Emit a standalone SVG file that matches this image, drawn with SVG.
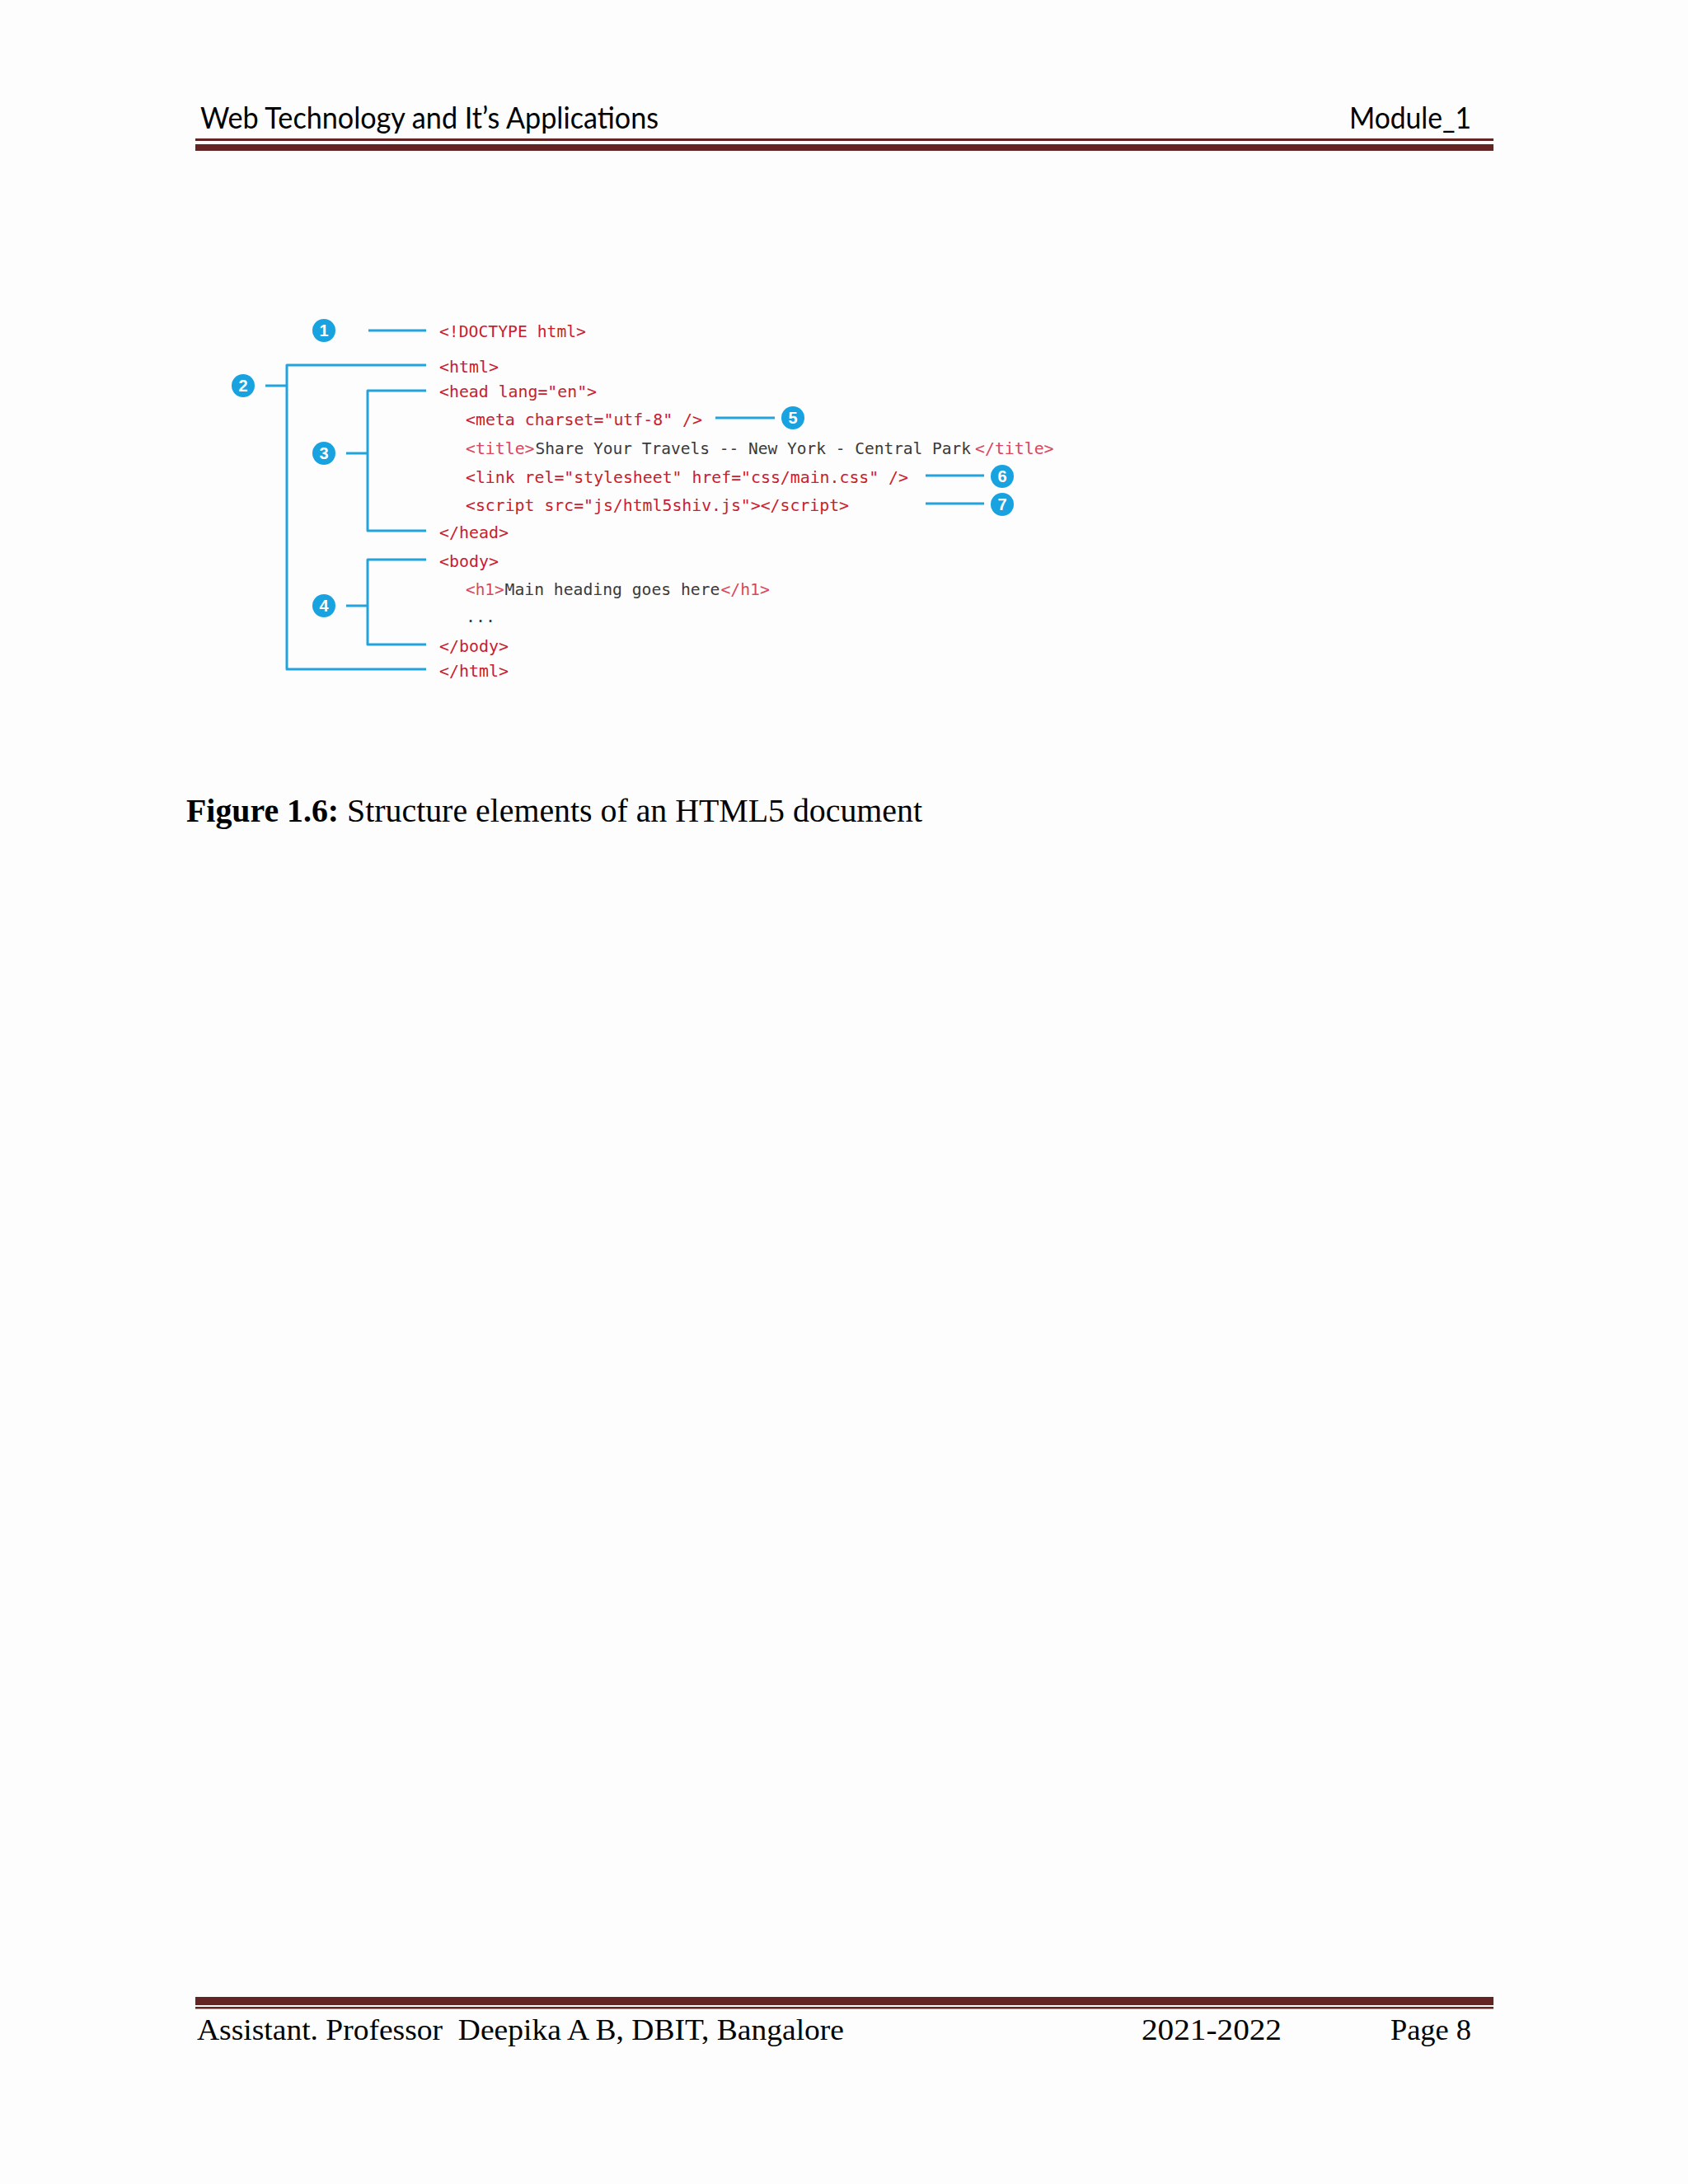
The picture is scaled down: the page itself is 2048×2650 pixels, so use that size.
<svg xmlns="http://www.w3.org/2000/svg" width="2048" height="2650" viewBox="0 0 2048 2650">
<style>
.hdr{font-family:Lato,"Liberation Sans",sans-serif;font-size:36.8px;fill:#000}
.ftr{font-family:"Liberation Serif",serif;font-size:36.8px;fill:#000;white-space:pre}
.code{font-family:"DejaVu Sans Mono","Liberation Mono",monospace;font-size:20px;fill:#c9202f}
.lt{fill:#d9475d}
.dk{fill:#3a3a3a}
.conn{fill:none;stroke:#22a3dc;stroke-width:3;stroke-linejoin:round;stroke-linecap:butt}
.badge circle{fill:#18a3e0}
.badge text{font-family:"Liberation Sans",sans-serif;font-weight:bold;font-size:20px;fill:#fff;text-anchor:middle}
.cap{font-family:"Liberation Serif",serif;font-size:40px;fill:#000}
.rule{fill:#632423}
</style>
<rect x="0" y="0" width="2048" height="2650" fill="#fdfdfd"/>

<g id="header">
<text class="hdr" x="243" y="156" textLength="556" lengthAdjust="spacingAndGlyphs">Web Technology and It’s Applications</text>
<text class="hdr" x="1637" y="156" textLength="148" lengthAdjust="spacingAndGlyphs">Module_1</text>
<rect class="rule" x="237" y="168" width="1575" height="3"/>
<rect class="rule" x="237" y="175" width="1575" height="8"/>
</g>

<g id="connectors">
<path class="conn" d="M447 401 H517"/>
<path class="conn" d="M517 443 H348 V812 H517 M322 468 H348"/>
<path class="conn" d="M517 474 H446 V644 H517 M420 550 H446"/>
<path class="conn" d="M517 679 H446 V782 H517 M420 735 H446"/>
<path class="conn" d="M868 507 H940"/>
<path class="conn" d="M1123 577 H1194"/>
<path class="conn" d="M1123 611 H1194"/>
</g>

<g id="callout-1" class="badge"><circle cx="393" cy="401" r="14"/><text x="393" y="408">1</text></g>
<g id="callout-2" class="badge"><circle cx="295" cy="468" r="14"/><text x="295" y="475">2</text></g>
<g id="callout-3" class="badge"><circle cx="393" cy="550" r="14"/><text x="393" y="557">3</text></g>
<g id="callout-4" class="badge"><circle cx="393" cy="735" r="14"/><text x="393" y="742">4</text></g>
<g id="callout-5" class="badge"><circle cx="962" cy="507" r="14"/><text x="962" y="514">5</text></g>
<g id="callout-6" class="badge"><circle cx="1216" cy="578" r="14"/><text x="1216" y="585">6</text></g>
<g id="callout-7" class="badge"><circle cx="1216" cy="612" r="14"/><text x="1216" y="619">7</text></g>

<g id="code">
<text class="code" x="533" y="409" textLength="178" lengthAdjust="spacingAndGlyphs">&lt;!DOCTYPE html&gt;</text>
<text class="code" x="533" y="452" textLength="72" lengthAdjust="spacingAndGlyphs">&lt;html&gt;</text>
<text class="code" x="533" y="482" textLength="191" lengthAdjust="spacingAndGlyphs">&lt;head lang="en"&gt;</text>
<text class="code" x="565" y="516" textLength="287" lengthAdjust="spacingAndGlyphs">&lt;meta charset="utf-8" /&gt;</text>
<text class="code lt" x="565" y="551" textLength="83.5" lengthAdjust="spacingAndGlyphs">&lt;title&gt;</text>
<text class="code dk" x="649.6" y="551" textLength="528.5" lengthAdjust="spacingAndGlyphs">Share Your Travels -- New York - Central Park</text>
<text class="code lt" x="1183" y="551" textLength="95.5" lengthAdjust="spacingAndGlyphs">&lt;/title&gt;</text>
<text class="code" x="565" y="586" textLength="537" lengthAdjust="spacingAndGlyphs">&lt;link rel="stylesheet" href="css/main.css" /&gt;</text>
<text class="code" x="565" y="620" textLength="465" lengthAdjust="spacingAndGlyphs">&lt;script src="js/html5shiv.js"&gt;&lt;/script&gt;</text>
<text class="code" x="533" y="653" textLength="84" lengthAdjust="spacingAndGlyphs">&lt;/head&gt;</text>
<text class="code" x="533" y="688" textLength="72" lengthAdjust="spacingAndGlyphs">&lt;body&gt;</text>
<text class="code lt" x="565" y="722" textLength="46.6" lengthAdjust="spacingAndGlyphs">&lt;h1&gt;</text>
<text class="code dk" x="612.6" y="722" textLength="260.8" lengthAdjust="spacingAndGlyphs">Main heading goes here</text>
<text class="code lt" x="874.4" y="722" textLength="59.5" lengthAdjust="spacingAndGlyphs">&lt;/h1&gt;</text>
<text class="code dk" x="565" y="755">...</text>
<text class="code" x="533" y="791" textLength="84" lengthAdjust="spacingAndGlyphs">&lt;/body&gt;</text>
<text class="code" x="533" y="821" textLength="84" lengthAdjust="spacingAndGlyphs">&lt;/html&gt;</text>
</g>

<text class="cap" x="226" y="997" textLength="893" lengthAdjust="spacingAndGlyphs"><tspan font-weight="bold">Figure 1.6:</tspan> Structure elements of an HTML5 document</text>

<g id="footer">
<rect class="rule" x="237" y="2423" width="1575" height="10"/>
<rect class="rule" x="237" y="2435" width="1575" height="2.5"/>
<text class="ftr" x="239" y="2475" textLength="785" lengthAdjust="spacingAndGlyphs">Assistant. Professor  Deepika A B, DBIT, Bangalore</text>
<text class="ftr" x="1385" y="2475" textLength="170" lengthAdjust="spacingAndGlyphs">2021-2022</text>
<text class="ftr" x="1687" y="2475" textLength="98" lengthAdjust="spacingAndGlyphs">Page 8</text>
</g>
</svg>
